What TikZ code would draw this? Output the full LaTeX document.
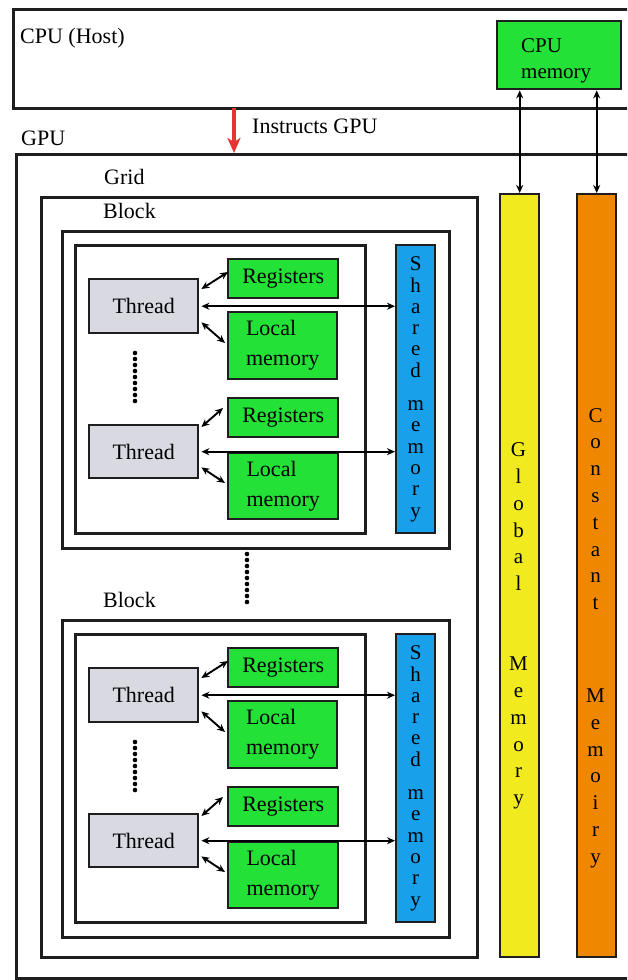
\documentclass[tikz,border=0pt]{standalone}
\usepackage{fontspec}
\newfontfamily\serifx{LiberationSerif}[Extension=.ttf, UprightFont=*-Regular, BoldFont=*-Bold]
\usetikzlibrary{arrows.meta}
\definecolor{linec}{RGB}{30,30,30}
\definecolor{boxgreen}{RGB}{35,225,55}
\definecolor{barblue}{RGB}{25,160,235}
\definecolor{baryellow}{RGB}{240,234,30}
\definecolor{barorange}{RGB}{240,135,0}
\definecolor{threadgray}{RGB}{216,217,225}
\definecolor{instred}{RGB}{228,52,52}
\tikzset{
  frame/.style={draw=linec, line width=2.6pt, fill=white, inner sep=0pt, anchor=north west},
  colbox/.style={draw=linec, line width=2.4pt, fill=#1, inner sep=0pt, anchor=north west},
  sz/.style 2 args={minimum width=#1pt, minimum height=#2pt},
  lbl/.style={anchor=base west, inner sep=0pt},
  dbl/.style={{Stealth[length=8pt,width=7pt]}-{Stealth[length=8pt,width=7pt]}, line width=1.9pt, draw=black},
  vtext/.style={align=center, inner sep=0pt, font=\serifx\fontsize{21}{#1}\selectfont},
  twoline/.style={align=left, font=\serifx\fontsize{22}{30}\selectfont},
}
\begin{document}
\begin{tikzpicture}[x=1pt,y=-1pt, every node/.style={font=\serifx\fontsize{22}{26}\selectfont, text=black}]
\useasboundingbox (0,0) rectangle (627,980);
\clip (0,0) rectangle (627,980);
% CPU host
\node[frame, sz={640}{99}] (cpu) at (12,8) {};
\node[lbl] (cpul) at (20,43) {CPU (Host)};
\node[colbox=boxgreen, sz={124}{68}] (cm) at (496,20) {};
\node[anchor=north west, inner sep=0pt, align=left, font=\serifx\fontsize{21}{26}\selectfont] (cmt) at (521,38) {CPU\\memory};
% GPU
\node[frame, sz={640}{824}] (gpu) at (15,153) {};
\node[lbl] (gpul) at (21,145) {GPU};
\node[lbl] (instr) at (252,133) {Instructs GPU};
\coordinate (ix) at (234,0);
\draw[instred, line width=3.6pt, -{Stealth[length=15pt,width=13pt,inset=4pt]}] ([yshift=2pt]ix |- cpu.south) -- (ix |- gpu.north);
% Grid
\node[frame, sz={436}{760}] (grid) at (40,196) {};
\node[lbl] (gridl) at (104,184) {Grid};
% Global / constant memory
\node[colbox=baryellow, sz={39}{763}] (gm) at (499,193) {};
\node[colbox=barorange, sz={39}{763}] (cn) at (576,193) {};
\node[vtext=26.8] (gmt) at (518.5,626) {G\\l\\o\\b\\a\\l\\[53.2pt]M\\e\\m\\o\\r\\y};
\node[vtext=26.8] (cnt) at (595.5,638) {C\\o\\n\\s\\t\\a\\n\\t\\[66pt]M\\e\\m\\o\\i\\r\\y};
\draw[dbl] (gm.north |- cm.south) -- (gm.north);
\draw[dbl] (cn.north |- cm.south) -- (cn.north);
% Blocks
\foreach \o/\p in {0/a,389/b}{
\begin{scope}[shift={(0,\o)}]
\node[frame, sz={387}{317}] (\p blk) at (61,230) {};
\node[lbl] (\p blkl) at (103,218) {Block};
\node[frame, sz={290}{288}] (\p inn) at (74,244) {};
\node[colbox=barblue, sz={39}{288}, vtext=21.3] (\p sm) at (395,244) {S\\h\\a\\r\\e\\d\\[12pt]m\\e\\m\\o\\r\\y};
\node[colbox=threadgray, sz={109}{54}] (\p t1) at (88,278) {Thread};
\node[colbox=boxgreen, sz={110}{39}] (\p r1) at (227,258) {Registers};
\node[colbox=boxgreen, sz={109}{67}, twoline] (\p l1) at (227,311) {Local\\memory};
\node[colbox=boxgreen, sz={110}{39}] (\p r2) at (227,397) {Registers};
\node[colbox=threadgray, sz={109}{53}] (\p t2) at (88,424) {Thread};
\node[colbox=boxgreen, sz={110}{66}, twoline] (\p l2) at (227,452) {Local\\memory};
\foreach \k in {0,...,8}{\fill[black] (135,353+6*\k) circle (2.3pt);}
\draw[dbl] ([shift={(2,11)}]\p t1.north east) -- ([shift={(1,14)}]\p r1.north west);
\draw[dbl] ([shift={(2,-12)}]\p t1.south east) -- ([shift={(-2,32)}]\p l1.north west);
\draw[dbl] ([xshift=2pt]\p t1.east) -- (\p t1.east -| \p sm.west);
\draw[dbl] ([shift={(2,3)}]\p t2.north east) -- ([shift={(-4,11)}]\p r2.north west);
\draw[dbl] ([shift={(2,-12)}]\p t2.south east) -- ([shift={(-2,31)}]\p l2.north west);
\draw[dbl] ([xshift=2pt]\p t2.east) -- (\p t2.east -| \p sm.west);
\end{scope}
}
\foreach \k in {0,...,8}{\fill[black] (247,554+6*\k) circle (2.3pt);}
\end{tikzpicture}
\end{document}
